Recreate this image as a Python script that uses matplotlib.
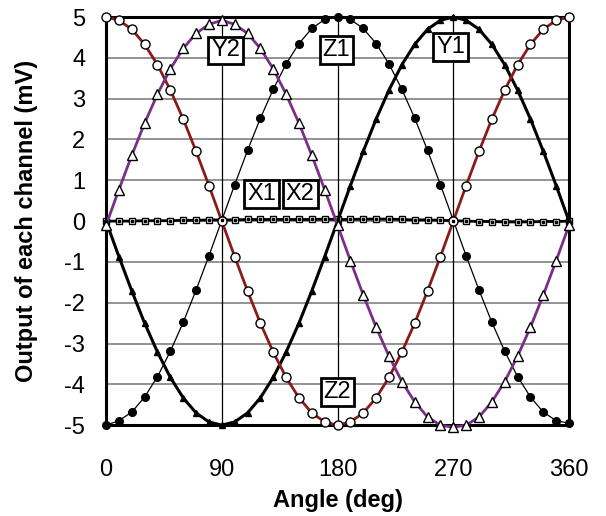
import matplotlib
matplotlib.use("Agg")
import matplotlib.pyplot as plt

plt.rcParams['font.family'] = ['Liberation Sans', 'DejaVu Sans']
plt.rcParams['axes.unicode_minus'] = False

# angle of each sample (deg)
angle = [0, 10, 20, 30, 40, 50, 60, 70, 80, 90, 100, 110, 120, 130, 140, 150, 160, 170, 180,
         190, 200, 210, 220, 230, 240, 250, 260, 270, 280, 290, 300, 310, 320, 330, 340, 350, 360]

# open circles, brown line
ch_y2 = [5.0, 4.92, 4.70, 4.33, 3.83, 3.21, 2.50, 1.71, 0.87, 0.0, -0.87, -1.71, -2.50, -3.21, -3.83, -4.33, -4.70, -4.92, -5.0,
         -4.92, -4.70, -4.33, -3.83, -3.21, -2.50, -1.71, -0.87, 0.0, 0.87, 1.71, 2.50, 3.21, 3.83, 4.33, 4.70, 4.92, 5.0]
# filled circles, thin black line
ch_z1 = [-5.0, -4.89, -4.68, -4.31, -3.81, -3.19, -2.48, -1.69, -0.85, 0.02, 0.89, 1.73, 2.52, 3.23, 3.85, 4.35, 4.72, 4.94, 5.0,
         4.94, 4.72, 4.35, 3.85, 3.23, 2.52, 1.73, 0.89, 0.02, -0.85, -1.69, -2.48, -3.19, -3.81, -4.31, -4.68, -4.89, -4.95]
# filled triangles, thick black line
ch_y1 = [0.0, -0.87, -1.71, -2.50, -3.21, -3.83, -4.33, -4.70, -4.92, -5.0, -4.92, -4.70, -4.33, -3.83, -3.21, -2.50, -1.71, -0.87, 0.0,
         0.87, 1.71, 2.50, 3.21, 3.83, 4.33, 4.70, 4.92, 5.0, 4.92, 4.70, 4.33, 3.83, 3.21, 2.50, 1.71, 0.87, 0.0]
# open triangles, purple line
ch_z2 = [-0.1, 0.77, 1.61, 2.40, 3.11, 3.73, 4.23, 4.60, 4.82, 4.92, 4.82, 4.60, 4.23, 3.73, 3.11, 2.40, 1.61, 0.77, -0.1,
         -0.97, -1.81, -2.60, -3.31, -3.93, -4.43, -4.80, -5.0, -5.05, -5.0, -4.80, -4.43, -3.93, -3.31, -2.60, -1.81, -0.97, -0.1]
# squares near zero
ch_x = [0.0, 0.0, 0.0, 0.01, 0.01, 0.01, 0.02, 0.02, 0.03, 0.03, 0.03, 0.04, 0.04, 0.04, 0.04, 0.04, 0.04, 0.05, 0.04,
        0.04, 0.05, 0.05, 0.05, 0.04, 0.03, 0.03, 0.02, 0.01, 0.0, -0.01, -0.01, -0.02, -0.02, -0.02, -0.01, -0.01, 0.0]

# label boxes: text, x, y
labels = ["Y2", "Z1", "Y1", "Z2", "X1", "X2"]
label_x = [93, 179, 268, 180, 121, 151]
label_y = [4.18, 4.2, 4.26, -4.18, 0.66, 0.66]

fig = plt.figure(figsize=(6.06, 5.16), dpi=100)
ax = fig.add_axes([0.175, 0.176, 0.764, 0.791])

ax.plot(angle, ch_x, color='black', lw=2, marker='s', ms=5, mfc='white', mec='black', mew=1, zorder=3, clip_on=False)
ax.plot(angle, ch_x, ls='none', marker='s', ms=2, color='black', zorder=4, clip_on=False)
ax.plot(angle, ch_y1, color='black', lw=2.2, marker='^', ms=4, zorder=3, clip_on=False)
ax.plot(angle, ch_z1, color='black', lw=0.9, marker='o', ms=5.5, zorder=3, clip_on=False)
ax.plot(angle, ch_y2, color='#8b1a1a', lw=2, marker='o', ms=6.5, mfc='white', mec='black', mew=1, zorder=3, clip_on=False)
ax.plot(angle, ch_z2, color='#7b2d8b', lw=2, marker='^', ms=7, mfc='white', mec='black', mew=1, zorder=3, clip_on=False)

for t, lx, ly in zip(labels, label_x, label_y):
    ax.text(lx, ly, t, fontsize=17, ha='center', va='center', zorder=5,
            bbox=dict(boxstyle='square,pad=0.12', fc='white', ec='black', lw=2))

ax.set_xlim(0, 360)
ax.set_ylim(-5, 5)
ax.set_xticks([0, 90, 180, 270, 360])
ax.set_yticks(range(-5, 6))
ax.tick_params(length=0, labelsize=17)
ax.tick_params(axis='x', pad=24)
ax.tick_params(axis='y', pad=15)

for y in range(-4, 5):
    ax.axhline(y, color='#808080', lw=1.2, zorder=1)
for x in [90, 180, 270]:
    ax.axvline(x, color='black', lw=0.9, zorder=1)

for s in ax.spines.values():
    s.set_linewidth(2.2)

ax.set_xlabel('Angle (deg)', fontsize=17, fontweight='bold', labelpad=6)
ax.set_ylabel('Output of each channel (mV)', fontsize=17, fontweight='bold')
ax.yaxis.set_label_coords(-0.148, 0.5)

fig.savefig('out.png', dpi=100)
